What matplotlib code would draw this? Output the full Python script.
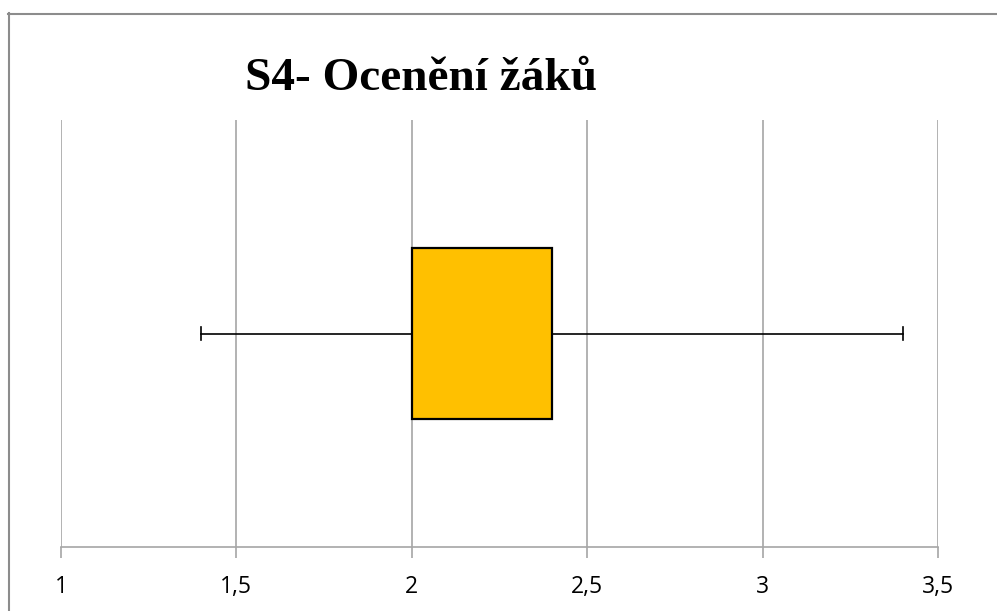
import matplotlib.pyplot as plt
from matplotlib.lines import Line2D

# DATA ######
title = 'S4- Ocenění žáků'
whisker_low = 1.4
quartile_1 = 2.0
median = 2.0
quartile_3 = 2.4
whisker_high = 3.4
x_ticks = [1, 1.5, 2, 2.5, 3, 3.5]
x_labels = ['1', '1,5', '2', '2,5', '3', '3,5']

# PLOT ######
W, H = 997, 611
fig = plt.figure(figsize=(W / 100, H / 100), dpi=100)
ax = fig.add_axes([61 / W, 64 / H, (938 - 61) / W, (547 - 120) / H])

stats = [{'whislo': whisker_low, 'q1': quartile_1, 'med': median,
          'q3': quartile_3, 'whishi': whisker_high, 'fliers': []}]
ax.bxp(stats, positions=[1], widths=0.4, vert=False, patch_artist=True,
       showfliers=False, capwidths=0.03,
       boxprops=dict(facecolor='#ffc000', edgecolor='black', linewidth=1.6),
       whiskerprops=dict(color='black', linewidth=1.2),
       capprops=dict(color='black', linewidth=1.2),
       medianprops=dict(linewidth=0))

ax.set_xlim(1, 3.5)
ax.set_ylim(0.5, 1.5)
ax.set_xticks(x_ticks)
ax.set_xticklabels(x_labels, fontsize=16.5, family='Open Sans')
ax.set_yticks([])
ax.xaxis.grid(True, color='#a6a6a6', linewidth=1.2, zorder=0)
ax.set_axisbelow(True)
ax.tick_params(axis='x', length=8, width=1.2, color='#a6a6a6', pad=12)
for side in ['top', 'right', 'left']:
    ax.spines[side].set_visible(False)
ax.spines['bottom'].set_color('#a6a6a6')
ax.spines['bottom'].set_linewidth(1.2)

fig.text(421 / W, 1 - 79 / H, title, ha='center', va='center',
         fontsize=34, fontweight='bold', family='Liberation Serif')

# outer frame (left and top edges only visible)
fig.add_artist(Line2D([8.5 / W, 8.5 / W], [0, 1 - 13 / H], transform=fig.transFigure,
                      color='#8c8c8c', linewidth=1.5))
fig.add_artist(Line2D([8 / W, 1], [1 - 13.5 / H, 1 - 13.5 / H], transform=fig.transFigure,
                      color='#8c8c8c', linewidth=1.5))

fig.savefig('out.png', dpi=100)
